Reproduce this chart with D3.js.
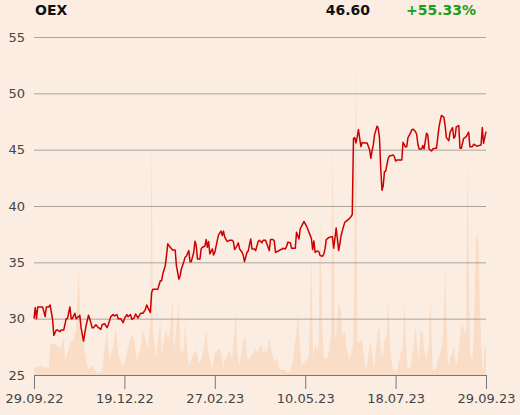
<!DOCTYPE html>
<html>
<head>
<meta charset="utf-8">
<script src="https://cdn.jsdelivr.net/npm/d3@7"></script>
<style>
  body { margin: 0; background: #fbede1; }
</style>
</head>
<body>
<script>
const symbol = "OEX";
const lastPrice = "46.60";
const change = "+55.33%";

const dateLabels = ["29.09.22", "19.12.22", "27.02.23", "10.05.23", "18.07.23", "29.09.23"];
const yTicks = [25, 30, 35, 40, 45, 50, 55];
const totalDays = 365;

// day offset from 29.09.22 for each close
const priceDay = [
  0, 1, 2, 3, 5, 7, 9, 10, 12, 13,
  15, 16, 18, 19, 21, 22, 24, 26, 27, 29,
  30, 31, 33, 34, 36, 37, 38, 40, 42, 44,
  45, 47, 48, 50, 52, 54, 55, 57, 59, 60,
  62, 64, 65, 67, 68, 70, 72, 73, 75, 76,
  78, 79, 81, 82, 84, 86, 88, 90, 91, 92,
  94, 95, 96, 99, 100, 102, 103, 104, 106, 107,
  108, 110, 112, 114, 115, 117, 118, 119, 121, 122,
  123, 125, 126, 127, 129, 130, 131, 132, 134, 135,
  136, 138, 139, 140, 141, 142, 144, 145, 146, 148,
  149, 151, 152, 153, 154, 156, 157, 158, 160, 161,
  162, 164, 165, 166, 168, 169, 170, 172, 173, 175,
  176, 178, 179, 181, 182, 184, 185, 187, 188, 190,
  191, 193, 194, 195, 197, 199, 200, 201, 203, 204,
  205, 207, 208, 209, 211, 212, 214, 215, 217, 218,
  220, 221, 222, 224, 225, 226, 227, 229, 230, 231,
  233, 234, 235, 236, 238, 240, 241, 242, 244, 245,
  246, 247, 248, 250, 251, 252, 254, 255, 256, 257,
  258, 259, 260, 261, 262, 263, 264, 265, 267, 268,
  269, 271, 272, 273, 274, 275, 277, 278, 279, 280,
  281, 282, 283, 284, 286, 287, 288, 290, 291, 292,
  293, 295, 297, 298, 300, 301, 302, 304, 305, 306,
  308, 309, 310, 311, 313, 314, 315, 317, 318, 319,
  321, 322, 324, 325, 327, 328, 329, 331, 332, 333,
  335, 336, 338, 339, 340, 341, 343, 344, 345, 347,
  348, 349, 351, 352, 354, 355, 356, 358, 359, 361,
  362, 363, 365
];
const prices = [
  30.00, 30.98, 30.00, 31.04, 31.04, 31.04, 30.18, 31.04, 31.04, 31.22,
  29.94, 28.51, 28.99, 28.99, 28.84, 28.99, 28.99, 30.00, 30.00, 31.04,
  30.00, 30.00, 30.48, 30.00, 30.18, 30.30, 29.20, 28.01, 29.35, 30.30,
  30.00, 29.20, 29.20, 29.46, 29.20, 29.05, 29.46, 29.55, 29.20, 29.46,
  30.18, 30.36, 30.24, 30.36, 30.00, 30.00, 29.64, 30.00, 30.36, 30.18,
  30.36, 29.94, 30.09, 30.42, 30.06, 30.48, 30.48, 30.83, 31.22, 30.98,
  30.54, 32.32, 32.62, 32.62, 32.62, 33.36, 33.36, 33.96, 34.70, 35.60,
  36.64, 36.34, 36.10, 36.10, 34.70, 33.51, 33.81, 34.40, 35.06, 35.45,
  35.54, 36.04, 35.06, 35.06, 35.89, 36.88, 36.49, 35.30, 35.30, 36.19,
  36.34, 36.43, 37.02, 36.34, 36.85, 35.74, 36.19, 35.65, 35.89, 36.93,
  37.44, 37.77, 37.38, 37.77, 37.23, 36.85, 36.90, 36.96, 36.96, 36.85,
  36.13, 36.49, 36.73, 36.19, 35.89, 35.60, 35.06, 35.89, 36.01, 37.08,
  36.19, 36.19, 36.04, 36.85, 36.96, 36.73, 36.96, 36.96, 36.64, 36.04,
  37.02, 37.02, 36.90, 35.89, 35.98, 36.13, 36.13, 36.25, 36.19, 36.43,
  36.79, 36.73, 36.25, 36.25, 36.25, 37.68, 37.08, 37.98, 38.42, 38.63,
  38.21, 37.98, 37.68, 37.14, 36.13, 36.90, 35.89, 36.01, 35.95, 35.60,
  35.54, 35.74, 36.19, 37.02, 37.20, 37.26, 37.26, 36.25, 38.04, 37.08,
  36.04, 36.64, 37.38, 38.21, 38.57, 38.63, 38.81, 38.93, 39.05, 39.26,
  46.01, 46.07, 45.60, 46.13, 46.79, 46.01, 45.27, 45.63, 45.60, 45.60,
  45.60, 45.00, 44.23, 44.88, 45.42, 46.31, 47.08, 46.90, 46.01, 43.33,
  41.40, 41.79, 43.04, 43.10, 44.23, 44.43, 44.46, 44.52, 44.38, 43.99,
  44.08, 44.08, 44.08, 45.65, 45.24, 45.27, 46.07, 46.46, 46.76, 46.82,
  46.61, 46.37, 45.48, 45.06, 45.06, 45.36, 45.06, 46.46, 46.31, 45.06,
  44.88, 45.06, 45.12, 45.12, 46.96, 47.56, 48.04, 47.86, 47.14, 46.07,
  45.80, 46.55, 46.96, 46.01, 46.16, 47.02, 47.14, 45.12, 45.12, 46.01,
  46.07, 46.16, 46.55, 45.27, 45.27, 45.48, 45.42, 45.30, 45.36, 45.42,
  46.96, 45.57, 46.60
];

// trading volume (sampled days)
const volumeDay = [
  0, 1, 3, 4, 5, 7, 8, 9, 11, 12,
  13, 16, 20, 21, 24, 25, 28, 29, 32, 34,
  36, 38, 40, 41, 44, 47, 49, 52, 55, 57,
  59, 60, 61, 64, 66, 68, 71, 73, 76, 79,
  81, 83, 86, 88, 90, 92, 93, 94, 95, 96,
  98, 99, 100, 102, 103, 104, 106, 107, 108, 110,
  112, 113, 115, 117, 118, 119, 121, 122, 123, 125,
  127, 129, 131, 133, 135, 137, 139, 140, 142, 144,
  146, 148, 150, 152, 153, 154, 156, 158, 160, 162,
  163, 164, 166, 169, 171, 172, 174, 176, 177, 179,
  181, 182, 184, 185, 187, 188, 190, 191, 193, 195,
  196, 198, 200, 203, 205, 207, 208, 209, 211, 212,
  213, 215, 216, 217, 220, 222, 224, 225, 226, 227,
  229, 230, 231, 233, 234, 235, 237, 238, 240, 241,
  243, 244, 246, 248, 249, 251, 252, 254, 255, 257,
  258, 260, 261, 263, 265, 266, 268, 269, 271, 272,
  273, 275, 276, 278, 279, 280, 282, 283, 285, 286,
  288, 290, 293, 295, 296, 298, 299, 301, 302, 304,
  305, 307, 308, 310, 311, 312, 314, 315, 317, 319,
  320, 322, 323, 325, 326, 328, 330, 331, 332, 334,
  335, 336, 338, 339, 341, 343, 345, 346, 348, 349,
  350, 352, 354, 355, 357, 358, 359, 360, 362, 363,
  364, 365
];
const volume = [
  2.5, 2.0, 2.8, 2.2, 3.0, 2.4, 2.6, 2.0, 2.5, 1.8,
  9.0, 9.5, 8.5, 7.5, 11.0, 4.5, 7.5, 9.5, 10.5, 13.5,
  32.0, 12.5, 10.5, 6.5, 1.5, 3.0, 1.5, 0.5, 1.5, 7.5,
  14.0, 7.5, 4.5, 8.5, 14.0, 6.5, 3.0, 3.0, 8.5, 12.0,
  10.5, 4.5, 7.5, 13.5, 10.5, 7.5, 12.5, 15.5, 71.5, 12.5,
  7.5, 4.5, 10.5, 16.0, 5.5, 8.5, 12.5, 13.5, 10.5, 13.5,
  22.7, 6.5, 14.5, 21.0, 8.5, 6.5, 7.5, 16.0, 10.5, 2.5,
  4.5, 6.5, 7.5, 3.5, 4.5, 7.5, 13.5, 8.5, 4.5, 1.5,
  6.5, 7.5, 8.0, 4.5, 1.5, 4.5, 5.5, 7.5, 4.5, 13.5,
  20.0, 7.5, 2.5, 10.5, 11.0, 5.5, 4.5, 6.5, 6.0, 8.0,
  6.5, 8.5, 9.0, 6.5, 7.5, 6.5, 11.0, 8.5, 5.5, 3.5,
  5.5, 2.0, 1.5, 1.5, 0.5, 1.0, 3.0, 3.5, 10.5, 12.5,
  18.5, 7.5, 2.5, 3.5, 4.5, 5.5, 35.5, 10.5, 4.5, 9.5,
  7.5, 10.5, 47.0, 12.5, 5.5, 4.5, 5.5, 6.5, 12.5, 68.5,
  10.5, 12.5, 22.5, 18.5, 11.5, 13.5, 8.5, 5.5, 4.5, 7.5,
  10.5, 93.3, 10.5, 9.5, 11.0, 6.5, 1.5, 3.5, 8.5, 10.0,
  6.5, 1.5, 7.5, 13.5, 14.5, 6.5, 5.5, 10.5, 12.5, 22.5,
  5.5, 1.5, 1.0, 4.5, 6.5, 7.5, 22.5, 4.5, 1.5, 2.5,
  4.5, 9.5, 14.5, 6.5, 4.5, 13.5, 12.5, 7.5, 4.5, 9.5,
  23.5, 1.5, 1.0, 2.5, 4.5, 6.5, 10.5, 17.5, 32.0, 4.5,
  2.5, 5.5, 6.5, 8.5, 2.5, 7.5, 14.5, 15.5, 12.5, 13.5,
  64.5, 6.5, 4.5, 10.5, 40.5, 43.0, 38.5, 20.5, 2.5, 1.5,
  8.5, 8.5
];

const width = 520;
const height = 415;
const margin = { top: 37, right: 34, bottom: 40, left: 34 };
const font = "'DejaVu Sans', sans-serif";

const svg = d3
  .select("body")
  .append("svg")
  .attr("width", width)
  .attr("height", height)
  .style("display", "block")
  .style("background", "#fbede1");

const x = d3
  .scaleLinear()
  .domain([0, totalDays])
  .range([margin.left, width - margin.right]);

const y = d3
  .scaleLinear()
  .domain([25, 55])
  .range([height - margin.bottom, margin.top]);

const yVol = d3
  .scaleLinear()
  .domain([0, d3.max(volume)])
  .range([height - margin.bottom, 64]);

// volume in the background
const volData = volumeDay.map((d, i) => ({ day: d, v: volume[i] }));
svg
  .append("path")
  .datum(volData)
  .attr("fill", "#f8d9c2")
  .attr("opacity", 0.85)
  .attr(
    "d",
    d3
      .area()
      .x((d) => x(d.day))
      .y0(yVol(0))
      .y1((d) => yVol(d.v))
  );

// gridlines + y labels
const yAxis = svg
  .append("g")
  .attr("transform", `translate(${margin.left},0)`)
  .call(
    d3
      .axisLeft(y)
      .tickValues(yTicks)
      .tickSize(-(width - margin.left - margin.right))
      .tickPadding(9)
  );
yAxis.select(".domain").remove();
yAxis
  .selectAll(".tick line")
  .attr("stroke", "#aaa59f")
  .attr("stroke-width", 1);
yAxis
  .selectAll(".tick text")
  .attr("fill", "#444")
  .style("font", `13px ${font}`);

// x axis, labels at evenly spaced positions
const tickPos = dateLabels.map((_, i) => (i * totalDays) / (dateLabels.length - 1));
const xAxis = svg
  .append("g")
  .attr("transform", `translate(0,${height - margin.bottom})`)
  .call(
    d3
      .axisBottom(x)
      .tickValues(tickPos)
      .tickFormat((d, i) => dateLabels[i])
      .tickSize(14)
      .tickSizeOuter(0)
      .tickPadding(5)
  );
xAxis.select(".domain").attr("stroke", "#777");
xAxis.selectAll(".tick line").attr("stroke", "#777");
xAxis
  .selectAll(".tick text")
  .attr("fill", "#444")
  .style("font", `13px ${font}`);

// price line
svg
  .append("path")
  .datum(prices)
  .attr("fill", "none")
  .attr("stroke", "#cc0000")
  .attr("stroke-width", 1.5)
  .attr("stroke-linejoin", "round")
  .attr(
    "d",
    d3
      .line()
      .x((d, i) => x(priceDay[i]))
      .y((d) => y(d))
  );

// header
const header = svg.append("g").style("font", `bold 14px ${font}`);
header.append("text").attr("x", 35).attr("y", 15).attr("fill", "#111").text(symbol);
header
  .append("text")
  .attr("x", 370)
  .attr("y", 15)
  .attr("text-anchor", "end")
  .attr("fill", "#111")
  .text(lastPrice);
header
  .append("text")
  .attr("x", 406)
  .attr("y", 15)
  .attr("fill", "#1a9e1a")
  .text(change);
</script>
</body>
</html>
